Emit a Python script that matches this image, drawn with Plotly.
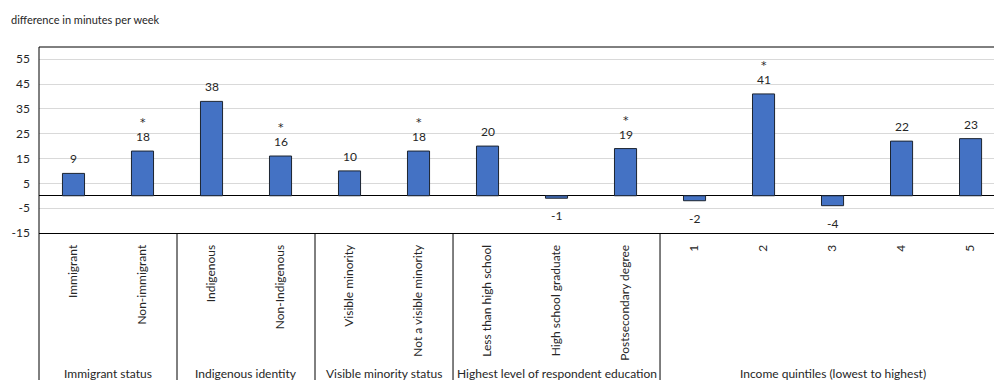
import plotly.graph_objects as go

# Categories, values (difference in minutes per week) and significance flags
categories = [
    "Immigrant", "Non-immigrant",
    "Indigenous", "Non-Indigenous",
    "Visible minority", "Not a visible minority",
    "Less than high school", "High school graduate", "Postsecondary degree",
    "1", "2", "3", "4", "5",
]
values = [9, 18, 38, 16, 10, 18, 20, -1, 19, -2, 41, -4, 22, 23]
significant = [False, True, False, True, False, True, False, False, True,
               False, True, False, False, False]

group_names = [
    "Immigrant status",
    "Indigenous identity",
    "Visible minority status",
    "Highest level of respondent education",
    "Income quintiles (lowest to highest)",
]
group_sizes = [2, 2, 2, 3, 5]

y_ticks = [-15, -5, 5, 15, 25, 35, 45, 55]

FONT = "Lato"
TXT = "#262626"

W, H = 994, 380
M_L, M_R, M_T, M_B = 39, 0, 47, 147
x_range = [-0.5, 13.34]

fig = go.Figure()
fig.add_trace(go.Bar(
    x=list(range(len(categories))),
    y=values,
    width=0.32,
    marker=dict(color="#4472C4", line=dict(color="#1c2430", width=1)),
    hoverinfo="x+y",
))

annotations = []
for i, (v, sig) in enumerate(zip(values, significant)):
    if v >= 0:
        annotations.append(dict(x=i, y=v, xref="x", yref="y", text=str(v),
                                showarrow=False, yanchor="bottom", yshift=5,
                                font=dict(family=FONT, size=12, color=TXT)))
        if sig:
            annotations.append(dict(x=i, y=v, xref="x", yref="y", text="*",
                                    showarrow=False, yanchor="bottom", yshift=20,
                                    font=dict(family="DejaVu Sans", size=11,
                                              color=TXT)))
    else:
        annotations.append(dict(x=i, y=v, xref="x", yref="y", text=str(v),
                                showarrow=False, yanchor="top", yshift=-8,
                                font=dict(family=FONT, size=12, color=TXT)))

# group labels and separators below the category axis
plot_h = H - M_T - M_B
plot_w = W - M_L - M_R
shapes = []
start = 0
for name, size in zip(group_names, group_sizes):
    center = start + (size - 1) / 2
    annotations.append(dict(x=center, y=-140 / plot_h, xref="x", yref="paper",
                            text=name, showarrow=False, yanchor="middle",
                            font=dict(family=FONT, size=12, color=TXT)))
    end = start + size - 0.5
    if start + size < len(categories):
        shapes.append(dict(type="line", xref="x", yref="paper",
                           x0=end, x1=end, y0=0, y1=-1.2,
                           line=dict(color="#000000", width=1)))
    start += size

# outer frame
shapes.append(dict(type="rect", xref="paper", yref="paper",
                   x0=0, x1=1.2, y0=-1.2, y1=1,
                   line=dict(color="#000000", width=1), layer="above"))

# unit label above the frame
annotations.append(dict(x=(9 - M_L) / plot_w, y=1 + (M_T - 20) / plot_h,
                        xref="paper", yref="paper",
                        text="difference in minutes per week", showarrow=False,
                        xanchor="left", yanchor="middle",
                        font=dict(family=FONT, size=11, color=TXT)))

fig.update_layout(
    width=W, height=H,
    margin=dict(l=M_L, r=M_R, t=M_T, b=M_B),
    paper_bgcolor="white", plot_bgcolor="white",
    showlegend=False,
    annotations=annotations,
    shapes=shapes,
    xaxis=dict(
        range=x_range,
        tickmode="array",
        tickvals=list(range(len(categories))),
        ticktext=categories,
        tickangle=-90,
        ticks="",
        showgrid=False,
        showline=True, linecolor="#000000", linewidth=1,
        ticklabelstandoff=6,
        tickfont=dict(family=FONT, size=12, color=TXT),
        zeroline=False,
    ),
    yaxis=dict(
        range=[-15, 59.9],
        tickmode="array",
        tickvals=y_ticks,
        ticktext=[str(t) for t in y_ticks],
        showgrid=True, gridcolor="#d9d9d9", gridwidth=1,
        zeroline=True, zerolinecolor="#000000", zerolinewidth=1,
        showline=False,
        ticks="",
        ticklabelstandoff=8,
        tickfont=dict(family=FONT, size=12, color=TXT),
    ),
)

fig.write_html("out.html")
